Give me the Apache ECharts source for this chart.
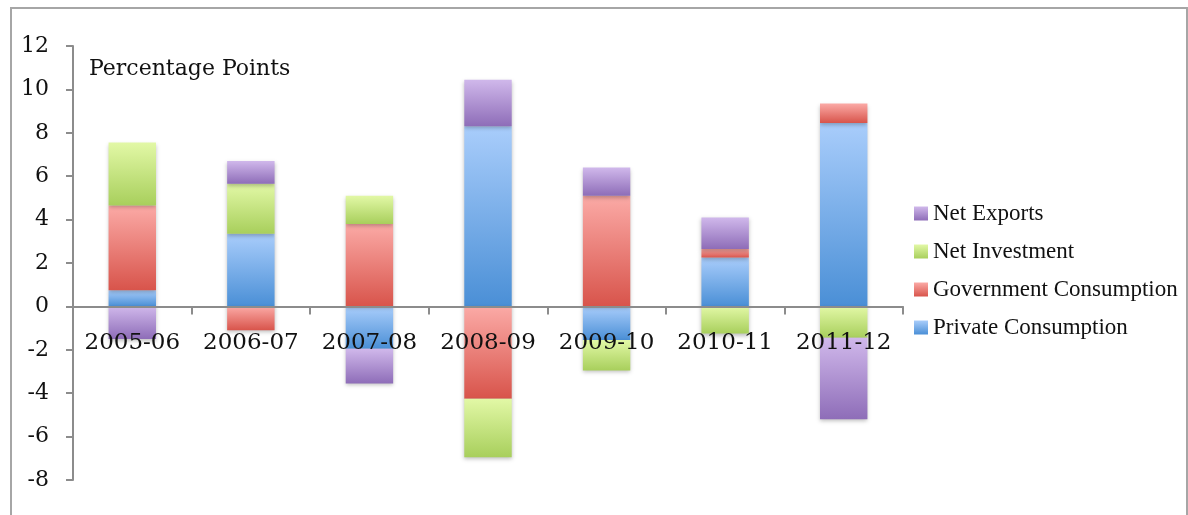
<!DOCTYPE html>
<html>
<head>
<meta charset="utf-8">
<script src="https://cdn.jsdelivr.net/npm/echarts@6/dist/echarts.min.js"></script>
<style>
  html, body { margin: 0; padding: 0; background: #fff; }
  #frame { position: absolute; left: 10px; top: 7px; width: 1174px; height: 540px; border: 2px solid #a6a6a6; }
  #main { position: absolute; left: 0; top: 0; width: 1188px; height: 515px; }
</style>
</head>
<body>
<div id="frame"></div>
<div id="main"></div>
<script>
const years = ['2005-06', '2006-07', '2007-08', '2008-09', '2009-10', '2010-11', '2011-12']
// contribution to growth, percentage points
const privateConsumption = [0.75, 3.35, -1.95, 8.3, -1.55, 2.25, 8.45]
const govConsumption = [3.9, -1.1, 3.8, -4.25, 5.1, 0.4, 0.9]
const netInvestment = [2.9, 2.3, 1.3, -2.7, -1.4, -1.25, -1.45]
const netExports = [-1.5, 1.05, -1.6, 2.15, 1.3, 1.45, -3.75]
const yTicks = [-8, -6, -4, -2, 0, 2, 4, 6, 8, 10, 12]

const serif = '"DejaVu Serif", serif'
const gridTop = 46
const gridBottom = 35
const gridH = 515 - gridTop - gridBottom
const yMin = yTicks[0]
const yMax = yTicks[yTicks.length - 1]
// x axis sits on the zero line, labels hang below it
const zeroOffset = -gridH * (0 - yMin) / (yMax - yMin)

function grad(top, bottom) {
  return new echarts.graphic.LinearGradient(0, 0, 0, 1, [
    { offset: 0, color: top },
    { offset: 1, color: bottom }
  ])
}

function barSeries(name, data, top, bottom) {
  return {
    name: name,
    type: 'bar',
    stack: 'total',
    barWidth: '40%',
    data: data,
    itemStyle: {
      color: grad(top, bottom),
      shadowColor: 'rgba(0,0,0,0.25)',
      shadowBlur: 4,
      shadowOffsetY: 2
    },
    emphasis: { disabled: true }
  }
}

const chart = echarts.init(document.getElementById('main'))
chart.setOption({
  animation: false,
  grid: { left: 73, right: 285, top: gridTop, bottom: gridBottom, containLabel: false, outerBoundsMode: 'none' },
  graphic: [{
    type: 'text',
    left: 89,
    top: 58,
    style: { text: 'Percentage Points', font: '22px ' + serif, fill: '#111' }
  }],
  legend: {
    orient: 'vertical',
    left: 914,
    top: 202,
    padding: 0,
    icon: 'rect',
    itemWidth: 14,
    itemHeight: 14,
    itemGap: 15,
    data: ['Net Exports', 'Net Investment', 'Government Consumption', 'Private Consumption'],
    textStyle: { fontFamily: '"Liberation Serif", serif', fontSize: 23, color: '#111' }
  },
  xAxis: {
    type: 'category',
    data: years,
    z: 5,
    offset: zeroOffset,
    axisLine: { onZero: false, lineStyle: { color: '#8c8c8c', width: 2 } },
    axisTick: { show: true, length: 8, lineStyle: { color: '#8c8c8c', width: 2 } },
    axisLabel: { interval: 0, margin: 25, fontFamily: serif, fontSize: 23, color: '#111' }
  },
  yAxis: {
    type: 'value',
    min: yMin,
    max: yMax,
    interval: 2,
    splitLine: { show: false },
    axisLine: { show: true, lineStyle: { color: '#8c8c8c', width: 2 } },
    axisTick: { show: true, length: 7, lineStyle: { color: '#8c8c8c', width: 2 } },
    axisLabel: { margin: 24, fontFamily: serif, fontSize: 22, color: '#111' }
  },
  series: [
    barSeries('Private Consumption', privateConsumption, '#a9cdfb', '#4a8fd6'),
    barSeries('Government Consumption', govConsumption, '#fbaaa6', '#d8544b'),
    barSeries('Net Investment', netInvestment, '#e2f8a6', '#a8cf5c'),
    barSeries('Net Exports', netExports, '#d0b8eb', '#8e6db8')
  ]
})
</script>
</body>
</html>
